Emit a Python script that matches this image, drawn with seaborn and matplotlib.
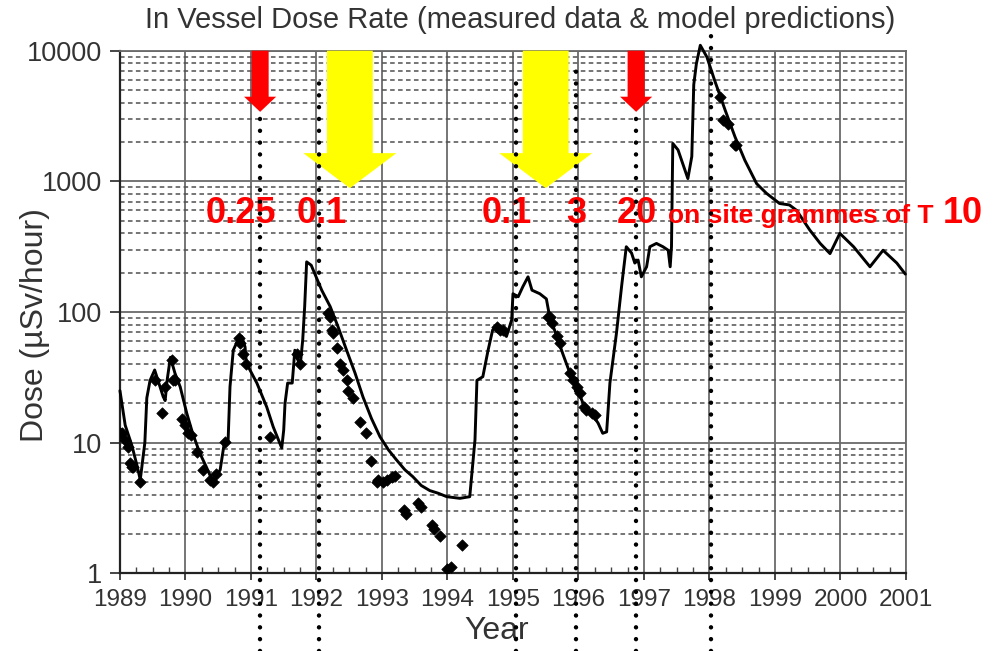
import matplotlib
matplotlib.use('Agg')
import matplotlib.pyplot as plt
import matplotlib.ticker as mticker
import matplotlib.transforms as mtransforms
from matplotlib.lines import Line2D
import seaborn as sns
import pandas as pd

sns.set_theme(style='ticks')
plt.rcParams['font.family'] = ['Liberation Sans', 'DejaVu Sans']

# solid line (model / measured trace)
line_year = [1989.00, 1989.08, 1989.18, 1989.26, 1989.31, 1989.35, 1989.38, 1989.41,
             1989.46, 1989.53, 1989.58, 1989.66, 1989.69, 1989.72, 1989.77, 1989.84,
             1989.92, 1990.02, 1990.11, 1990.22, 1990.32, 1990.42, 1990.53, 1990.60,
             1990.65, 1990.68, 1990.73, 1990.80, 1990.86, 1990.91, 1990.93, 1991.09,
             1991.24, 1991.34, 1991.47, 1991.50, 1991.52, 1991.56, 1991.63, 1991.67,
             1991.75, 1991.79, 1991.82, 1991.85, 1991.92, 1992.08, 1992.21, 1992.33,
             1992.46, 1992.59, 1992.71, 1992.84, 1992.97, 1993.10, 1993.22, 1993.35,
             1993.47, 1993.60, 1993.73, 1993.86, 1993.99, 1994.19, 1994.34, 1994.42,
             1994.45, 1994.54, 1994.62, 1994.69, 1994.75, 1994.80, 1994.90, 1994.98,
             1995.00, 1995.08, 1995.15, 1995.23, 1995.29, 1995.41, 1995.51, 1995.56,
             1995.67, 1995.76, 1995.87, 1995.97, 1996.07, 1996.20, 1996.30, 1996.37,
             1996.43, 1996.48, 1996.58, 1996.66, 1996.73, 1996.81, 1996.86, 1996.91,
             1996.96, 1997.04, 1997.09, 1997.19, 1997.29, 1997.37, 1997.40, 1997.42,
             1997.44, 1997.52, 1997.67, 1997.73, 1997.76, 1997.80, 1997.86, 1997.96,
             1998.08, 1998.24, 1998.39, 1998.54, 1998.72, 1998.87, 1999.07, 1999.22,
             1999.33, 1999.53, 1999.69, 1999.84, 1999.99, 2000.20, 2000.45, 2000.65,
             2000.86, 2000.99]
line_dose = [25, 13.6, 9.6, 6.7, 5.2, 7.5, 10, 22,
             30, 36, 30, 22.5, 21, 30, 45, 34,
             26.7, 16.8, 11.8, 8.3, 6.5, 5.0, 6.2, 10.5,
             10, 26.8, 51, 61, 65, 54, 40.6, 28.6,
             18.8, 13.2, 9.1, 12.5, 20, 28.6, 28.6, 51,
             38, 61, 110, 242, 228, 147, 110, 77,
             51, 34, 22.4, 15.3, 11.1, 8.8, 7.4, 6.2,
             5.5, 4.7, 4.3, 4.1, 3.86, 3.75, 3.86, 10.5,
             30, 32, 51, 73, 77, 73, 65, 87,
             138, 131, 156, 186, 147, 138, 126, 92,
             65, 48, 34, 26.8, 20, 16.8, 14.1, 11.8,
             12.1, 28.6, 69, 160, 316, 283, 237, 250,
             186, 222, 316, 335, 316, 297, 222, 316,
             1950, 1740, 1050, 1550, 5500, 7950, 11000, 8960,
             5900, 3500, 2190, 1450, 960, 810, 677, 660,
             600, 425, 335, 280, 400, 316, 222, 297,
             237, 195]

# diamond markers
meas_year = [1989.00, 1989.03, 1989.08, 1989.13, 1989.15, 1989.18, 1989.20, 1989.31,
             1989.53, 1989.64, 1989.69, 1989.79, 1989.81, 1989.84, 1989.94, 1989.99,
             1990.04, 1990.09, 1990.17, 1990.27, 1990.37, 1990.42, 1990.47, 1990.60,
             1990.81, 1990.83, 1990.88, 1990.93, 1991.29, 1991.70, 1991.75,
             1992.18, 1992.21, 1992.23, 1992.26, 1992.31, 1992.36, 1992.41, 1992.46,
             1992.48, 1992.56, 1992.66, 1992.76, 1992.84, 1992.92, 1992.94, 1993.02,
             1993.07, 1993.15, 1993.20, 1993.33, 1993.37, 1993.55, 1993.59, 1993.76,
             1993.80, 1993.89, 1994.00, 1994.06, 1994.22,
             1994.75, 1994.80, 1994.85, 1995.54, 1995.56, 1995.59, 1995.67, 1995.72,
             1995.87, 1995.92, 1995.97, 1996.02, 1996.09, 1996.12, 1996.20, 1996.25,
             1998.16, 1998.21, 1998.29, 1998.39, 1998.41]
meas_dose = [11.8, 11.8, 10.5, 9.3, 7.0, 6.5, 6.5, 5.0,
             30, 16.8, 26.8, 43, 30, 30, 15.3, 13.6,
             11.8, 11.5, 8.5, 6.2, 5.2, 5.0, 5.8, 10.1,
             63, 58, 48, 40, 11.1, 48, 40,
             98, 92, 73, 69, 53, 40, 35.8, 30,
             25, 22, 14.5, 11.8, 7.2, 5.0, 5.2, 5.0,
             5.2, 5.5, 5.6, 3.05, 2.85, 3.43, 3.2, 2.35,
             2.2, 1.93, 1.08, 1.12, 1.65,
             77, 73, 73, 92, 92, 82, 65, 58,
             34, 30, 26.8, 23.8, 18.8, 17.7, 16.8, 16.2,
             4430, 2950, 2770, 1890, 1890]

year_ticks = list(range(1989, 2002))
dose_ticks = [1, 10, 100, 1000, 10000]

# event markers: dotted verticals, arrows and red labels
event_year = [1991.14, 1992.04, 1995.05, 1995.96, 1996.88, 1998.02]
event_top = [0.823, 0.877, 0.877, 0.900, 0.826, 0.946]
red_arrow_year = [1991.14, 1996.88]
yellow_arrow_year = [1992.51, 1995.50]
label_text = ['0.25', '0.1', '0.1', '3', '20', '10']
label_year = [1990.85, 1992.08, 1994.91, 1995.96, 1996.89, 2001.87]

title = 'In Vessel Dose Rate (measured data & model predictions)'

fig = plt.figure(figsize=(10.08, 6.51), dpi=100)
ax = fig.add_axes([0.119, 0.1193, 0.7798, 0.8028])

df_line = pd.DataFrame({'year': line_year, 'dose': line_dose})
df_meas = pd.DataFrame({'year': meas_year, 'dose': meas_dose})

sns.lineplot(data=df_line, x='year', y='dose', color='black', lw=2.1,
             estimator=None, sort=False, ax=ax, zorder=4)
ax.lines[-1].set_clip_on(False)
sns.scatterplot(data=df_meas, x='year', y='dose', marker='D', s=34,
                color='black', edgecolor='black', linewidth=0.5, ax=ax, zorder=4)

ax.set_yscale('log')
ax.set_xlim(1989, 2001)
ax.set_ylim(1, 10000)
ax.set_xticks(year_ticks)
ax.set_xticklabels([str(y) for y in year_ticks])
ax.xaxis.set_minor_locator(mticker.MultipleLocator(0.25))
ax.set_yticks(dose_ticks)
ax.yaxis.set_major_formatter(mticker.FuncFormatter(lambda v, _: f'{v:g}'))
ax.yaxis.set_minor_locator(mticker.LogLocator(base=10, subs=range(2, 10)))
ax.yaxis.set_minor_formatter(mticker.NullFormatter())

ax.grid(which='major', axis='both', color='#6a6a6a', lw=1.3, ls='-', zorder=1)
ax.grid(which='minor', axis='y', color='#505050', lw=1.1, ls=(0, (3, 2.2)), zorder=1)
ax.xaxis.grid(False, which='minor')
ax.set_axisbelow(True)

ax.tick_params(axis='x', which='major', direction='out', length=5, width=1.2,
               labelsize=17.5, labelcolor='#333333', pad=6)
ax.tick_params(axis='x', which='minor', direction='in', length=4, width=1, color='#444444')
ax.tick_params(axis='y', which='major', direction='out', length=7, width=1.2,
               labelsize=19.5, labelcolor='#333333', pad=6)
ax.tick_params(axis='y', which='minor', length=0)

for side in ['left', 'bottom']:
    ax.spines[side].set_color('#222222')
    ax.spines[side].set_linewidth(1.6)
for side in ['top', 'right']:
    ax.spines[side].set_color('#6a6a6a')
    ax.spines[side].set_linewidth(1.3)

ax.set_xlabel('')
ax.set_ylabel('')
fig.text(0.035, 0.50, 'Dose (\u00b5Sv/hour)', rotation=90, ha='center', va='center',
         fontsize=23, color='#333333')
fig.text(0.493, 0.030, 'Year', ha='center', va='center', fontsize=23, color='#333333')
fig.text(0.516, 0.970, title, ha='center', va='center', fontsize=21, color='#333333')

# arrows in (data x, axes y)
trans_ax = mtransforms.blended_transform_factory(ax.transData, ax.transAxes)


def down_arrow(xc, shaft, head, y_head, y_tip, color):
    xs = [xc - shaft, xc + shaft, xc + shaft, xc + head, xc, xc - head, xc - shaft]
    ys = [1.0, 1.0, y_head, y_head, y_tip, y_head, y_head]
    ax.fill(xs, ys, color=color, transform=trans_ax, clip_on=False, zorder=5, lw=0)


for xc in red_arrow_year:
    down_arrow(xc, 0.13, 0.245, 0.912, 0.883, '#ff0000')
for xc in yellow_arrow_year:
    down_arrow(xc, 0.35, 0.71, 0.804, 0.737, '#ffff00')

# dotted verticals, running past the axes to the bottom of the figure
trans_fig = mtransforms.blended_transform_factory(ax.transData, fig.transFigure)
for xe, top in zip(event_year, event_top):
    ln = Line2D([xe, xe], [0.0, top], transform=trans_fig, color='black', lw=3.2,
                ls=(0, (0.01, 2.65)), dash_capstyle='round', clip_on=False, zorder=6)
    fig.add_artist(ln)

for txt, xl in zip(label_text, label_year):
    ax.text(xl, 0.671, txt, transform=trans_ax, ha='center', va='baseline',
            fontsize=26, fontweight='bold', color='#ff0000', zorder=7, clip_on=False)
ax.text(1997.37, 0.671, 'on site grammes of T', transform=trans_ax, ha='left',
        va='baseline', fontsize=19, fontweight='bold', color='#ff0000', zorder=7)

fig.savefig('out.png', dpi=100)
